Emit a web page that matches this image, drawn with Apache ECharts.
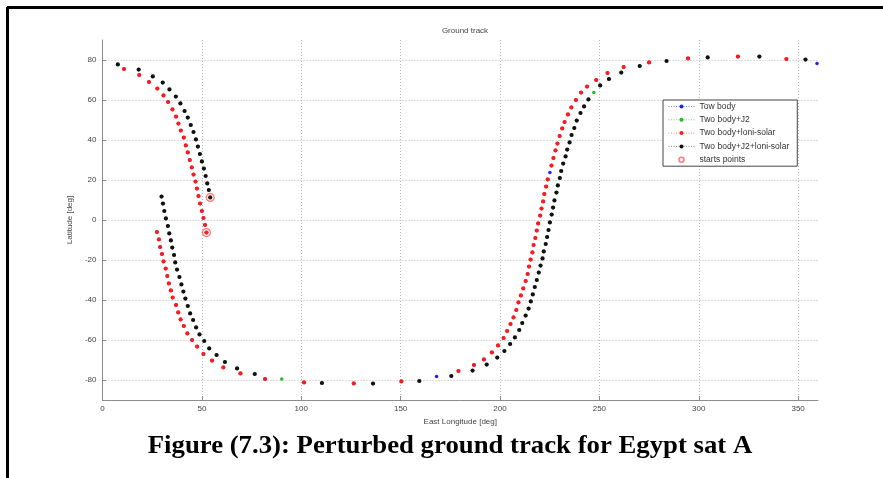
<!DOCTYPE html>
<html>
<head>
<meta charset="utf-8">
<script src="https://cdn.jsdelivr.net/npm/echarts@6/dist/echarts.min.js"></script>
<style>html,body{margin:0;padding:0;background:#fff}#c{width:883px;height:478px}</style>
</head>
<body>
<div id="c"></div>
<script>
// ---- data (lon [deg], lat [deg]) ----
const xTicks = [0, 50, 100, 150, 200, 250, 300, 350];
const yTicks = [-80, -60, -40, -20, 0, 20, 40, 60, 80];

// Two body + luni-solar (red) track, westward from its start point
const lsTrack = [
  [52.3,-6.3],[51.6,-2.5],[50.8,1.0],[50.0,4.5],[49.1,8.2],[48.3,12.0],[47.5,15.7],[46.8,19.2],
  [45.8,22.7],[44.9,26.3],[43.9,30.0],[42.9,33.8],[41.9,37.3],[40.9,41.2],[39.4,44.7],[38.2,48.2],
  [37.0,51.7],[35.2,55.3],[33.0,59.0],[30.7,62.3],[27.6,65.7],[23.4,69.0],[18.5,72.5],[10.8,75.5],
  [359.5,78.3],[344.1,80.5],[319.7,81.7],[294.6,80.8],[275.0,78.8],[262.2,76.5],[254.1,73.5],[248.4,70.0],
  [243.8,66.7],[240.8,63.7],[238.2,60.0],[235.9,56.3],[234.2,52.8],[232.5,49.0],[231.3,45.8],[230.0,42.0],
  [228.9,38.2],[227.9,34.8],[226.9,31.0],[225.9,27.2],[225.1,23.8],[224.0,20.3],[223.2,16.7],[222.3,13.0],
  [221.7,9.3],[220.9,5.7],[220.2,2.2],[219.2,-1.7],[218.5,-5.3],[217.8,-9.0],[216.9,-12.5],[216.3,-16.2],
  [215.4,-19.8],[214.6,-23.3],[213.9,-27.0],[212.9,-30.5],[211.7,-34.2],[210.5,-37.7],[209.3,-41.2],[208.2,-45.0],
  [206.8,-48.7],[205.3,-52.0],[203.6,-55.5],[201.8,-59.0],[199.0,-62.7],[195.9,-66.2],[191.9,-69.7],[186.9,-72.5],
  [179.1,-75.5],[168.1,-78.3],[150.4,-80.7],[126.4,-81.7],[101.4,-81.2],[81.8,-79.5],[69.4,-76.7],[60.8,-73.7],
  [55.1,-70.3],[50.8,-67.0],[47.6,-63.3],[45.1,-60.0],[42.7,-56.7],[40.9,-53.0],[39.3,-49.7],[38.1,-46.2],
  [37.0,-42.5],[35.3,-38.8],[34.4,-35.2],[33.4,-31.7],[32.6,-28.0],[31.8,-24.3],[30.7,-20.7],[29.9,-17.0],
  [29.0,-13.5],[28.4,-9.7],[27.4,-6.0]
];

// Two body + J2 + luni-solar (black) track
const allTrack = [
  [54.2,11.3],[53.5,15.0],[52.7,18.3],[51.9,22.0],[51.0,25.7],[50.0,29.3],[49.0,33.0],[48.0,36.7],
  [47.0,40.3],[45.8,44.0],[44.4,47.5],[42.9,51.2],[41.3,54.5],[39.2,58.3],[36.9,61.7],[33.7,65.3],
  [30.3,68.7],[25.3,71.8],[18.2,75.2],[7.7,77.8],[353.7,80.2],[330.5,81.7],[304.5,81.3],[283.8,79.5],
  [270.3,77.0],[261.0,73.7],[254.8,70.5],[250.4,67.3],[247.2,63.8],[244.5,60.3],[242.3,56.8],[240.5,53.5],
  [238.6,49.7],[237.4,46.0],[236.0,42.5],[235.0,38.8],[233.8,35.2],[233.0,31.8],[231.8,28.2],[230.8,24.5],
  [230.1,21.0],[229.1,17.3],[228.4,13.7],[227.4,9.8],[226.7,6.2],[226.0,2.7],[225.1,-1.2],[224.4,-5.0],
  [223.7,-8.5],[223.0,-12.0],[222.0,-15.7],[221.4,-19.2],[220.4,-22.8],[219.5,-26.3],[218.5,-30.0],[217.5,-33.5],
  [216.5,-37.2],[215.5,-40.7],[214.4,-44.3],[212.9,-47.8],[211.2,-51.5],[209.7,-55.0],[207.5,-58.7],[205.1,-62.0],
  [202.2,-65.5],[198.6,-68.8],[193.3,-72.3],[186.2,-75.3],[175.5,-78.0],[159.4,-80.5],[136.1,-81.8],[110.4,-81.5],
  [90.2,-79.5],[76.6,-77.0],[67.7,-74.2],[61.6,-71.0],[57.4,-67.5],[53.7,-64.2],[51.2,-60.5],[48.8,-57.2],
  [47.1,-53.7],[45.6,-50.0],[44.1,-46.7],[42.9,-43.0],[41.7,-39.3],[40.7,-35.8],[39.7,-32.2],[38.7,-28.5],
  [37.5,-24.8],[36.6,-21.2],[36.0,-17.5],[35.1,-13.8],[34.4,-10.2],[33.6,-6.7],[32.9,-3.0],[31.9,0.8],
  [31.1,4.5],[30.4,8.2],[29.7,11.7]
];

// Two body (blue) coincides with the luni-solar track; J2 (green) coincides with the full-model track
const twoBodyTrack = lsTrack;
const j2Track = allTrack;
// points where the underlying blue / green marker is the one that shows
const blueShown = [[359.5,78.3],[225.1,23.8],[168.1,-78.3]];
const greenShown = [[247.2,63.8],[90.2,-79.5]];

const startPoints = [[54.2,11.3],[52.3,-6.3]];

const legendNames = ['Tow body','Two body+J2','Two body+loni-solar','Two body+J2+loni-solar','starts points'];
const seriesColors = ['#2020ff','#22bb22','#ff1a1a','#111111'];
const legendLineColors = ['#7a7aff','#66ee66','#ff8080','#888888'];

// ---- chart ----
function notIn(list){ return p => !list.some(q => q[0]===p[0] && q[1]===p[1]); }
const FONT = '"Liberation Sans", Arial, sans-serif';
const chart = echarts.init(document.getElementById('c'), null, {renderer:'canvas'});

function trackSeries(i, data, z, size){
  return {
    name:legendNames[i], type:'line', data, z,
    symbol:'circle', symbolSize:size, showSymbol:true,
    itemStyle:{color:seriesColors[i]},
    lineStyle:{opacity:0, width:0},
    silent:true, animation:false
  };
}

const axisCommon = {
  axisLine:{show:true, onZero:false, lineStyle:{color:'#8c8c8c', width:1}},
  splitLine:{show:true, lineStyle:{color:'#b8b8b8', type:[1,2], width:1}},
  nameLocation:'middle',
  nameTextStyle:{fontSize:8, color:'#444', fontFamily:FONT}
};

chart.setOption({
  animation:false,
  backgroundColor:'#ffffff',
  title:{
    text:'Ground track', left:460, top:22, textAlign:'center',
    textStyle:{fontSize:8, fontWeight:'normal', color:'#444', fontFamily:FONT}
  },
  grid:{left:102.5, right:65, top:40, bottom:78, containLabel:false},
  xAxis:Object.assign({}, axisCommon, {
    type:'value', min:0, max:360,
    name:'East Longitude [deg]', nameGap:13,
    axisTick:{show:true, inside:true, length:4, customValues:xTicks, lineStyle:{color:'#8c8c8c'}},
    axisLabel:{customValues:xTicks, fontSize:8, color:'#444', margin:5, fontFamily:FONT}
  }),
  yAxis:Object.assign({}, axisCommon, {
    type:'value', min:-90, max:90,
    name:'Latitude [deg]', nameGap:18, nameRotate:90,
    axisTick:{show:true, inside:true, length:4, customValues:yTicks, lineStyle:{color:'#8c8c8c'}},
    axisLabel:{customValues:yTicks, fontSize:8, color:'#444', margin:6, fontFamily:FONT}
  }),
  legend:{
    orient:'vertical', left:663, top:100,
    backgroundColor:'#fff', borderColor:'#444', borderWidth:1,
    padding:[2,8,2,5], itemGap:4.3, itemWidth:26, itemHeight:5,
    textStyle:{fontSize:8.5, lineHeight:9, color:'#333', fontFamily:FONT},
    data:legendNames.map((n,i) => i < 4
      ? {name:n, lineStyle:{color:legendLineColors[i], opacity:1, width:1, type:[1,1.5]}}
      : {name:n, itemStyle:{color:'#fff', borderColor:'#ff5a5a', borderWidth:1.5}})
  },
  series:[
    trackSeries(0, twoBodyTrack, 2, 3.5),
    trackSeries(1, j2Track, 3, 3.5),
    trackSeries(2, lsTrack.filter(notIn(blueShown)), 4, 4.2),
    trackSeries(3, allTrack.filter(notIn(greenShown)), 5, 4.2),
    {
      name:legendNames[4], type:'scatter', data:startPoints, z:6,
      symbol:'circle', symbolSize:8,
      itemStyle:{color:'rgba(255,80,80,0.12)', borderColor:'#ff5a5a', borderWidth:1.2}
    }
  ],
  graphic:[
    {type:'line', shape:{x1:7, y1:7.5, x2:883, y2:7.5}, style:{stroke:'#000', lineWidth:3}},
    {type:'line', shape:{x1:7.5, y1:7, x2:7.5, y2:478}, style:{stroke:'#000', lineWidth:3}},
    {type:'text', x:450, y:447, scaleX:1.07, originX:0, originY:0, style:{
      text:'Figure (7.3): Perturbed ground track for Egypt sat A',
      font:'bold 25px "Liberation Serif", "Times New Roman", serif',
      fill:'#000', textAlign:'center', textVerticalAlign:'middle'
    }}
  ]
});
</script>
</body>
</html>
